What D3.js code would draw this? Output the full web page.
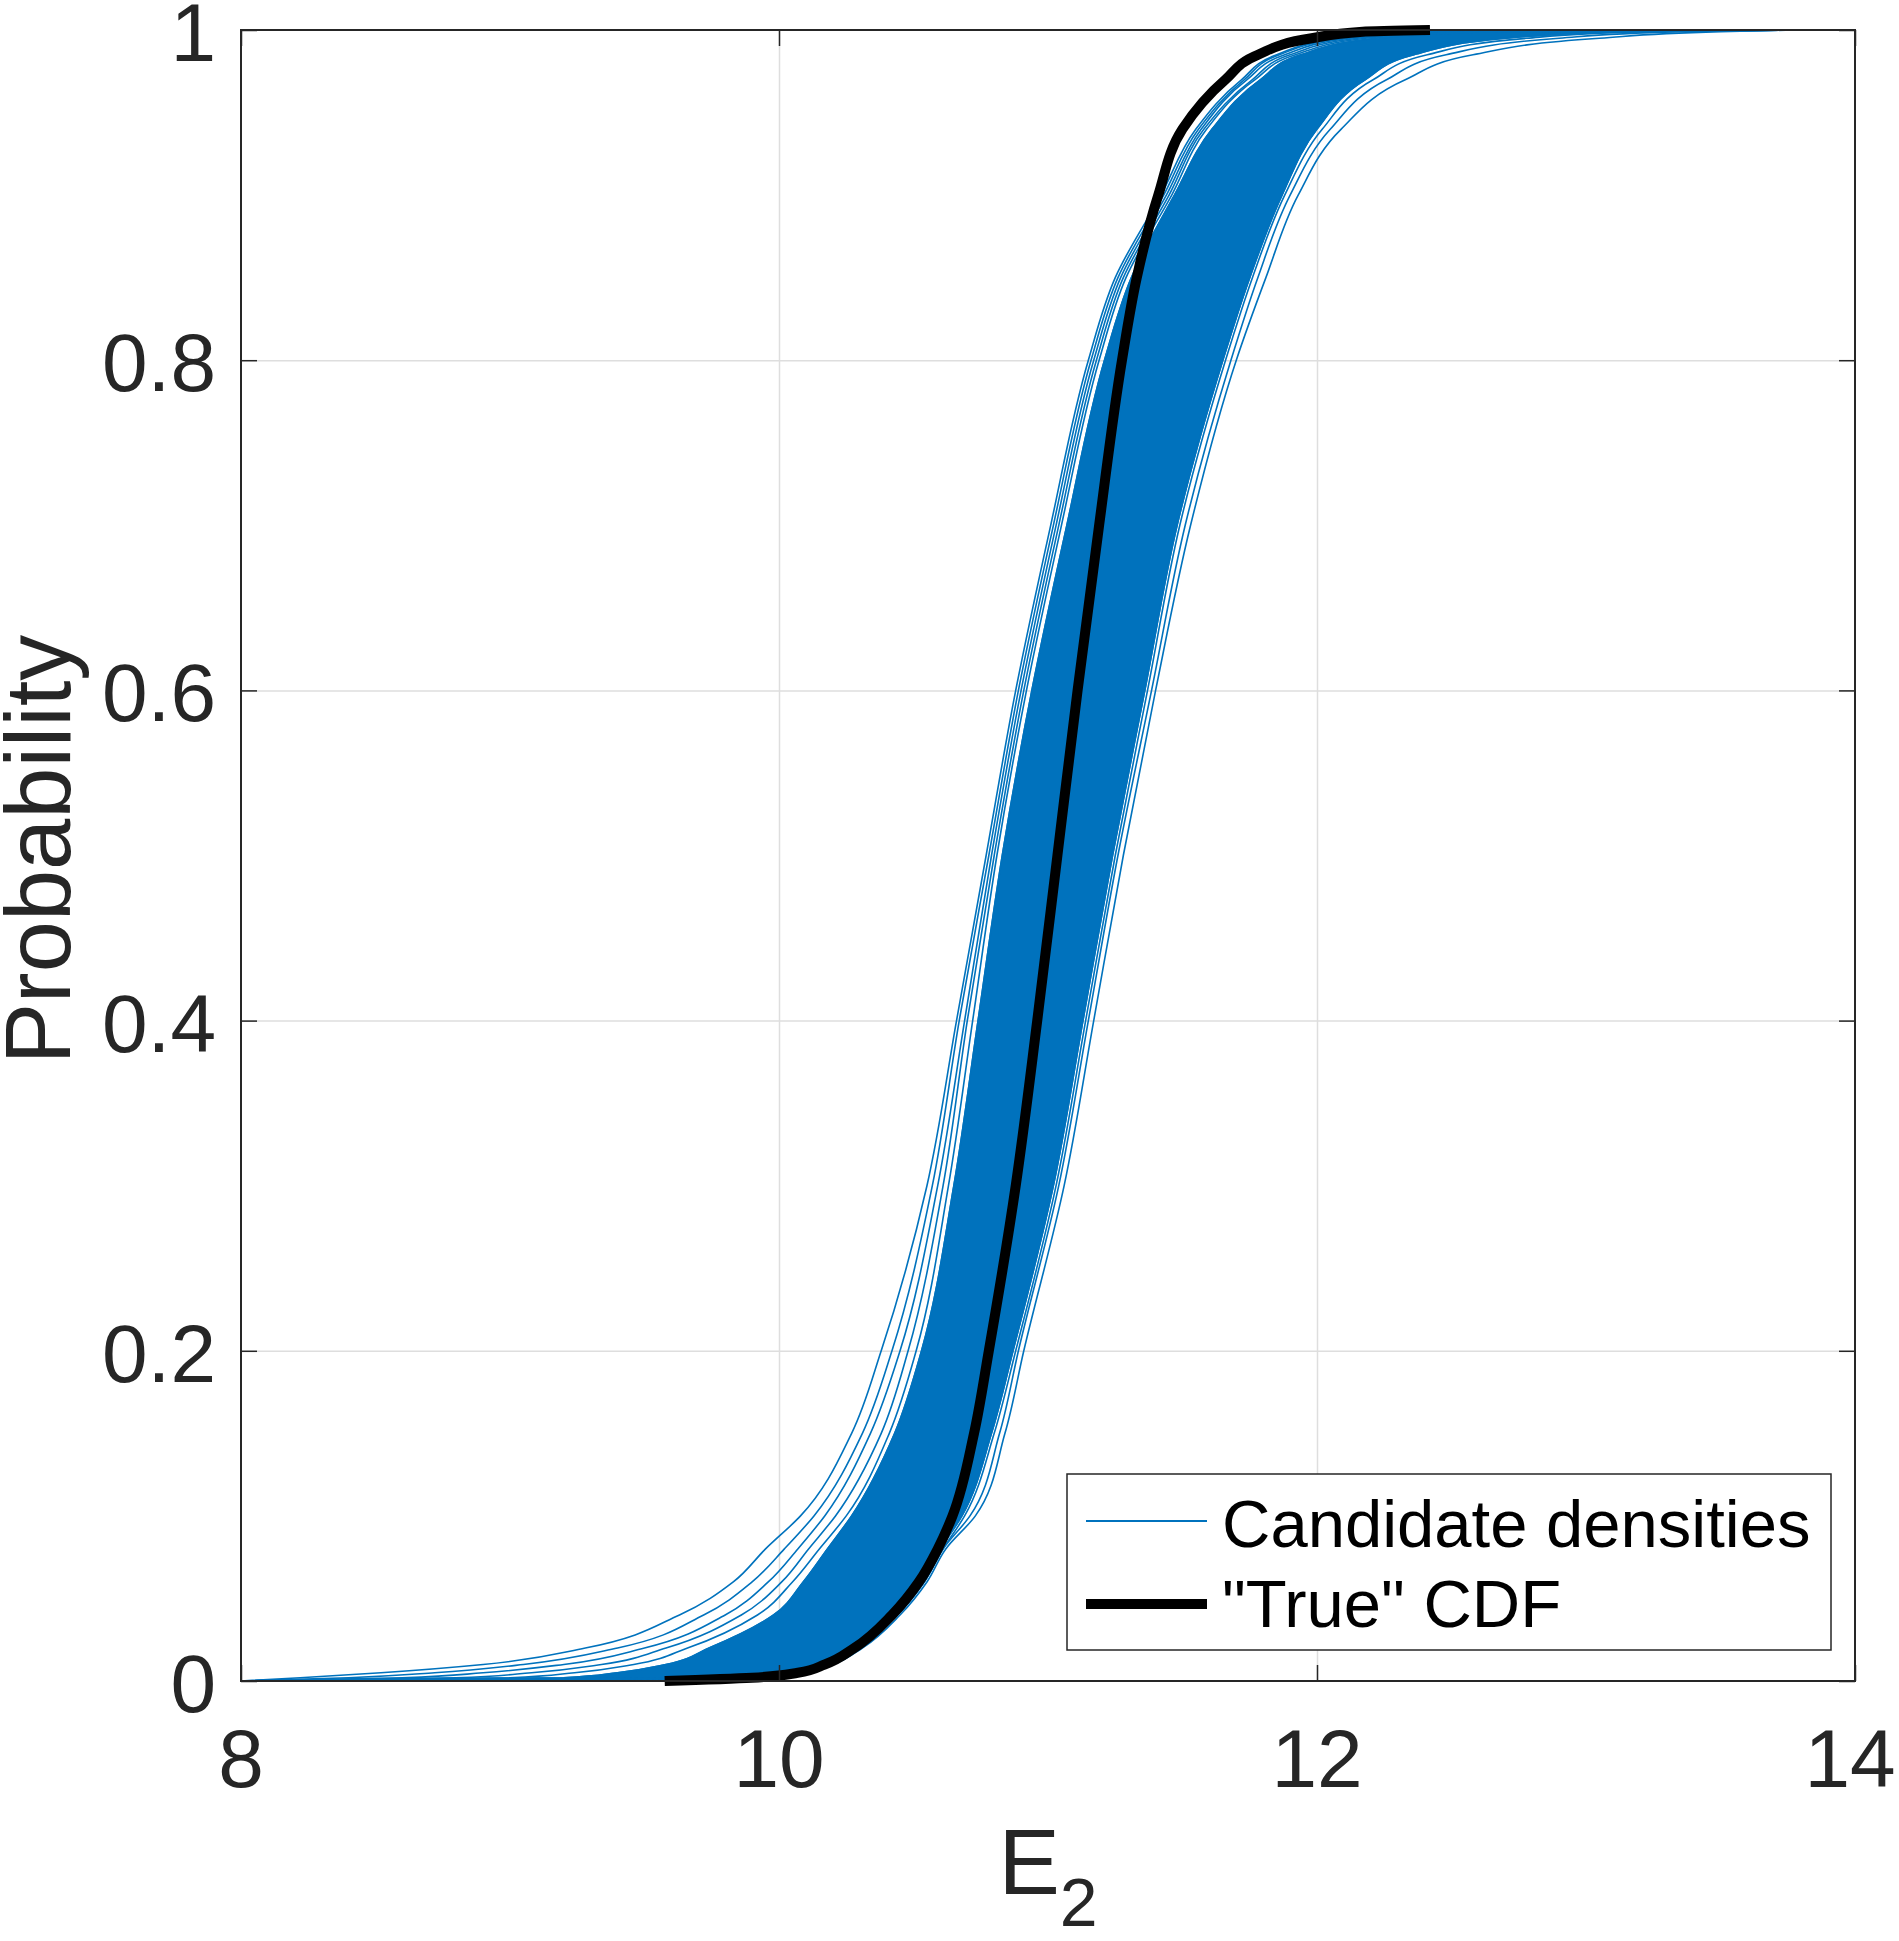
<!DOCTYPE html>
<html><head><meta charset="utf-8">
<script src="https://cdn.jsdelivr.net/npm/d3@7"></script>
<style>body{margin:0;background:#fff}svg{display:block}</style>
</head><body><svg id="chart" width="1899" height="1941"></svg>
<script>
// ---- data ----
const probLevels = [0, 0.002, 0.005, 0.01, 0.02, 0.04, 0.06, 0.08, 0.1, 0.15, 0.2, 0.3, 0.4, 0.5, 0.6, 0.7, 0.8, 0.85, 0.9, 0.94, 0.97, 0.985, 0.995, 0.999, 1];
// dense core of the candidate bundle (left / right edges)
const coreLeftX  = [8.00, 9.20, 9.40, 9.58, 9.74, 9.98, 10.09, 10.18, 10.27, 10.43, 10.53, 10.65, 10.74, 10.83, 10.94, 11.07, 11.21, 11.31, 11.47, 11.61, 11.79, 11.94, 12.22, 12.65, 13.77];
const coreRightX = [9.60, 9.93, 10.09, 10.19, 10.29, 10.43, 10.53, 10.60, 10.68, 10.79, 10.87, 11.02, 11.13, 11.24, 11.36, 11.48, 11.65, 11.75, 11.87, 12.00, 12.18, 12.36, 12.70, 13.15, 13.77];
// individual candidate curves at the edges of the bundle
const candA = [8.00, 8.22, 8.52, 8.90, 9.28, 9.63, 9.83, 9.95, 10.08, 10.27, 10.38, 10.55, 10.66, 10.77, 10.88, 11.01, 11.15, 11.25, 11.42, 11.55, 11.72, 11.85, 12.08, 12.45, 13.77];
const candB = [8.00, 8.40, 8.72, 9.05, 9.40, 9.72, 9.90, 10.02, 10.13, 10.31, 10.42, 10.57, 10.67, 10.78, 10.89, 11.02, 11.16, 11.26, 11.43, 11.56, 11.73, 11.86, 12.10, 12.48, 13.77];
const candC = [8.00, 8.60, 8.90, 9.20, 9.50, 9.80, 9.96, 10.07, 10.17, 10.34, 10.45, 10.59, 10.69, 10.79, 10.90, 11.03, 11.17, 11.27, 11.44, 11.57, 11.74, 11.88, 12.12, 12.52, 13.77];
const candD = [8.00, 8.80, 9.08, 9.34, 9.58, 9.86, 10.01, 10.11, 10.21, 10.38, 10.48, 10.61, 10.70, 10.80, 10.91, 11.04, 11.18, 11.28, 11.45, 11.58, 11.76, 11.90, 12.15, 12.56, 13.77];
const candE = [8.00, 9.00, 9.24, 9.46, 9.66, 9.92, 10.05, 10.15, 10.25, 10.41, 10.51, 10.63, 10.72, 10.81, 10.92, 11.05, 11.19, 11.29, 11.46, 11.59, 11.77, 11.92, 12.18, 12.60, 13.77];
const candF = [8.00, 9.94, 10.10, 10.20, 10.30, 10.44, 10.54, 10.61, 10.69, 10.80, 10.88, 11.03, 11.14, 11.25, 11.37, 11.49, 11.66, 11.76, 11.88, 12.02, 12.21, 12.41, 12.78, 13.22, 13.77];
const candG = [8.00, 9.95, 10.10, 10.20, 10.30, 10.44, 10.54, 10.61, 10.71, 10.82, 10.89, 11.04, 11.15, 11.26, 11.385, 11.51, 11.68, 11.78, 11.90, 12.05, 12.26, 12.48, 12.90, 13.35, 13.77];
const candH = [8.00, 9.95, 10.10, 10.20, 10.31, 10.45, 10.55, 10.62, 10.73, 10.84, 10.91, 11.06, 11.17, 11.28, 11.40, 11.53, 11.70, 11.81, 11.93, 12.09, 12.33, 12.58, 13.05, 13.50, 13.77];
// "True" CDF
const trueP = [0, 0.002, 0.005, 0.01, 0.02, 0.04, 0.06, 0.08, 0.1, 0.15, 0.2, 0.3, 0.4, 0.5, 0.6, 0.7, 0.8, 0.85, 0.9, 0.94, 0.97, 0.985, 0.995, 0.999, 1];
const trueX = [9.575, 9.90, 10.07, 10.17, 10.28, 10.42, 10.52, 10.59, 10.645, 10.725, 10.78, 10.88, 10.96, 11.035, 11.11, 11.19, 11.275, 11.33, 11.41, 11.50, 11.66, 11.78, 11.98, 12.17, 12.42];
// axes
const xTicks = [8, 10, 12, 14];
const xTickLabels = ["8", "10", "12", "14"];
const yTicks = [0, 0.2, 0.4, 0.6, 0.8, 1];
const yTickLabels = ["0", "0.2", "0.4", "0.6", "0.8", "1"];
const legendLabels = ["Candidate densities", "\"True\" CDF"];

// ---- drawing ----
const FONT = "'Liberation Sans', Arial, Helvetica, sans-serif";
const BLUE = "#0072BD", AX = "#262626", GRID = "#dedede";
const L = 241, R = 1855, T = 30, B = 1681;
const x = d3.scaleLinear().domain([8, 14]).range([L, R]);
const y = d3.scaleLinear().domain([0, 1]).range([B, T]);
const svg = d3.select("#chart");

svg.append("defs").append("clipPath").attr("id", "clip")
  .append("rect").attr("x", L).attr("y", T - 6).attr("width", R - L).attr("height", B - T + 12);

// grid
const gridG = svg.append("g");
gridG.append("g").attr("transform", `translate(0,${B})`)
  .call(d3.axisBottom(x).tickValues(xTicks.slice(1, -1)).tickSize(-(B - T)).tickFormat(""))
  .call(g => { g.select(".domain").remove(); g.selectAll("line").attr("stroke", GRID).attr("stroke-width", 1.5); });
gridG.append("g").attr("transform", `translate(${L},0)`)
  .call(d3.axisLeft(y).tickValues(yTicks.slice(1, -1)).tickSize(-(R - L)).tickFormat(""))
  .call(g => { g.select(".domain").remove(); g.selectAll("line").attr("stroke", GRID).attr("stroke-width", 1.5); });

const dataG = svg.append("g").attr("clip-path", "url(#clip)");
const line = d3.line().x(d => x(d[0])).y(d => y(d[1])).curve(d3.curveMonotoneY);

// dense core
const coreData = probLevels.map((p, i) => ({ p, l: coreLeftX[i], r: coreRightX[i] }));
const area = d3.area().y(d => y(d.p)).x0(d => x(d.l)).x1(d => x(d.r)).curve(d3.curveMonotoneY);
dataG.append("path").datum(coreData).attr("d", area).attr("fill", BLUE).attr("stroke", BLUE).attr("stroke-width", 1.5);

// edge candidate curves
[candA, candB, candC, candD, candE, candF, candG, candH, coreLeftX, coreRightX].forEach(arr => {
  dataG.append("path").datum(arr.map((v, i) => [v, probLevels[i]]))
    .attr("d", line).attr("fill", "none").attr("stroke", BLUE).attr("stroke-width", 1.6);
});

// true CDF
dataG.append("path").datum(trueX.map((v, i) => [v, trueP[i]]))
  .attr("d", line).attr("fill", "none").attr("stroke", "#000").attr("stroke-width", 10);

// axes box and ticks
const axG = svg.append("g");
const styleTicks = g => { g.select(".domain").remove(); g.selectAll("line").attr("stroke", AX).attr("stroke-width", 1.5); g.selectAll("text").remove(); };
axG.append("g").attr("transform", `translate(0,${B})`).call(d3.axisBottom(x).tickValues(xTicks).tickSize(-16)).call(styleTicks);
axG.append("g").attr("transform", `translate(0,${T})`).call(d3.axisTop(x).tickValues(xTicks).tickSize(-16)).call(styleTicks);
axG.append("g").attr("transform", `translate(${L},0)`).call(d3.axisLeft(y).tickValues(yTicks).tickSize(-16)).call(styleTicks);
axG.append("g").attr("transform", `translate(${R},0)`).call(d3.axisRight(y).tickValues(yTicks).tickSize(-16)).call(styleTicks);
axG.append("rect").attr("x", L).attr("y", T).attr("width", R - L).attr("height", B - T)
  .attr("fill", "none").attr("stroke", AX).attr("stroke-width", 2);

// tick labels
axG.selectAll(".xl").data(xTicks).enter().append("text")
  .attr("x", d => Math.min(x(d), 1850)).attr("y", B + 106).attr("text-anchor", "middle")
  .attr("font-family", FONT).attr("font-size", 82).attr("fill", AX)
  .text((d, i) => xTickLabels[i]);
axG.selectAll(".yl").data(yTicks).enter().append("text")
  .attr("x", L - 25).attr("y", d => y(d) + 31).attr("text-anchor", "end")
  .attr("font-family", FONT).attr("font-size", 82).attr("fill", AX)
  .text((d, i) => yTickLabels[i]);

// axis titles
const xt = axG.append("text").attr("x", (L + R) / 2).attr("y", 1894).attr("text-anchor", "middle")
  .attr("font-family", FONT).attr("font-size", 92).attr("fill", AX);
xt.append("tspan").text("E");
xt.append("tspan").attr("font-size", 68).attr("dy", 32).text("2");
axG.append("text").attr("transform", `translate(70,${(T + B) / 2 - 6}) rotate(-90)`).attr("text-anchor", "middle")
  .attr("font-family", FONT).attr("font-size", 92).attr("fill", AX).text("Probability");

// legend
const lg = svg.append("g");
lg.append("rect").attr("x", 1067).attr("y", 1474).attr("width", 764).attr("height", 176)
  .attr("fill", "#fff").attr("stroke", AX).attr("stroke-width", 1.5);
const legendStyles = [{ c: BLUE, w: 1.8, y: 1521 }, { c: "#000", w: 10, y: 1604 }];
legendLabels.forEach((lab, i) => {
  lg.append("line").attr("x1", 1086).attr("x2", 1207).attr("y1", legendStyles[i].y).attr("y2", legendStyles[i].y)
    .attr("stroke", legendStyles[i].c).attr("stroke-width", legendStyles[i].w);
  lg.append("text").attr("x", 1222).attr("y", i === 0 ? 1547 : 1627)
    .attr("font-family", FONT).attr("font-size", 67).attr("fill", "#000").text(lab);
});
</script></body></html>
